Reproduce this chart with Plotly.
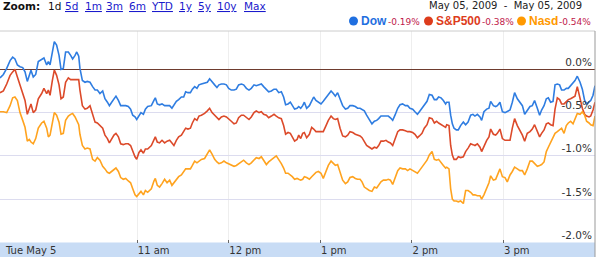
import pandas as pd
import plotly.graph_objects as go

# ---------------- data ----------------
minutes_after_open = [
    0.0, 2.2, 4.4, 6.6, 8.3, 9.8, 11.4, 13.1, 14.9, 16.4, 17.9, 19.2, 20.3, 21.8, 23.4, 25.1, 27.3, 28.8, 30.6, 31.7,
    32.8, 34.3, 35.6, 37.1, 38.7, 40.0, 41.5, 43.0, 44.8, 46.3, 47.6, 49.2, 50.3, 51.6, 52.4, 54.0, 55.7, 57.2, 59.0, 60.7,
    62.3, 63.8, 65.5, 67.3, 68.8, 70.4, 71.7, 73.2, 74.7, 76.0, 77.6, 79.1, 80.8, 82.4, 84.1, 85.6, 87.0, 88.5, 89.6, 91.1,
    92.4, 94.0, 95.3, 96.8,
    99.2, 100.9, 101.8, 103.1, 104.6, 106.2, 107.9, 109.5, 111.2, 112.7, 114.0, 115.6, 117.1, 118.9, 120.4, 121.7, 123.2, 124.8, 126.1, 127.6,
    129.1, 130.4, 132.0, 134.1, 135.9, 137.4, 139.0, 140.7, 142.2, 143.5, 145.1, 146.8, 148.4, 149.9, 151.6, 153.4, 154.9, 156.4, 158.2, 159.7,
    161.5, 163.2, 164.7, 166.5, 168.0, 169.8, 171.3, 172.8, 174.6, 176.1, 177.9, 179.6, 181.1, 182.7, 184.4, 185.9, 187.2, 188.8, 190.3, 191.6,
    193.1, 194.7,
    195.8, 197.1, 198.4, 199.5, 201.0, 202.8, 204.3, 205.6, 207.1, 208.7, 210.4, 211.9, 213.7, 215.2, 217.0, 218.5, 219.8, 221.3, 222.9, 224.6,
    226.4, 227.9, 229.4, 231.2, 232.9, 234.4, 236.0, 237.3, 238.8, 240.3, 242.1, 243.8, 245.4, 246.9, 248.2, 249.7, 251.3, 253.0, 254.5, 255.9,
    257.4, 258.9, 260.7, 262.2, 263.9, 265.7, 267.2, 268.7, 270.5, 272.0, 273.6, 274.9, 276.6, 278.1, 279.9, 281.4, 283.2, 284.7, 286.2, 287.5,
    289.1, 290.6, 292.1,
    292.8, 294.3, 295.4, 296.5, 297.6, 299.1, 300.4, 301.9, 303.7, 305.2, 306.8, 308.5, 310.0, 311.3, 312.9, 314.6, 315.7, 317.2, 319.0, 320.5,
    321.6, 323.4, 324.9, 326.0, 327.7, 329.3, 331.0, 332.5, 334.3, 335.8, 337.3, 339.1, 340.8, 342.4, 343.9, 345.6, 347.4, 348.9, 350.4, 352.2,
    353.7, 355.0, 356.6, 358.1, 359.4, 360.9, 362.5, 363.8, 365.3, 366.8, 368.1, 369.7, 371.2, 372.5, 374.0, 375.6, 376.9, 378.4, 380.2, 381.7,
    383.2, 384.5, 386.1, 387.2, 388.7, 390.0,
]

dow_pct = [
    -0.10, -0.06, 0.01, 0.10, 0.14, 0.12, 0.05, 0.03, 0.02, -0.03, -0.14, -0.06, -0.01, -0.09, -0.06, 0.09, 0.12, 0.13, 0.05, 0.09,
    0.05, 0.22, 0.32, 0.28, 0.16, 0.00, 0.01, 0.20, 0.20, 0.16, 0.12, 0.16, 0.20, 0.15, 0.01, -0.13, -0.15, -0.14, -0.15, -0.20,
    -0.24, -0.24, -0.28, -0.25, -0.34, -0.38, -0.42, -0.38, -0.34, -0.31, -0.36, -0.42, -0.42, -0.42, -0.43, -0.46, -0.53, -0.55, -0.58, -0.53,
    -0.50, -0.52, -0.46, -0.43,
    -0.42, -0.36, -0.33, -0.40, -0.41, -0.40, -0.42, -0.42, -0.42, -0.45, -0.42, -0.37, -0.35, -0.32, -0.32, -0.26, -0.27, -0.27, -0.23, -0.20,
    -0.22, -0.18, -0.17, -0.16, -0.15, -0.11, -0.15, -0.18, -0.21, -0.18, -0.17, -0.17, -0.18, -0.22, -0.24, -0.24, -0.23, -0.18, -0.17, -0.18,
    -0.22, -0.24, -0.22, -0.18, -0.19, -0.18, -0.17, -0.20, -0.24, -0.26, -0.25, -0.23, -0.23, -0.27, -0.26, -0.32, -0.41, -0.40, -0.38, -0.42,
    -0.46, -0.45,
    -0.43, -0.45, -0.42, -0.38, -0.45, -0.42, -0.36, -0.32, -0.36, -0.38, -0.40, -0.37, -0.33, -0.29, -0.25, -0.28, -0.31, -0.27, -0.35, -0.42,
    -0.46, -0.45, -0.42, -0.42, -0.43, -0.45, -0.45, -0.46, -0.48, -0.53, -0.59, -0.63, -0.60, -0.59, -0.57, -0.54, -0.54, -0.54, -0.54, -0.56,
    -0.59, -0.53, -0.45, -0.41, -0.40, -0.42, -0.42, -0.45, -0.46, -0.49, -0.52, -0.49, -0.45, -0.42, -0.37, -0.29, -0.30, -0.35, -0.35, -0.32,
    -0.33, -0.36, -0.40,
    -0.38, -0.38, -0.53, -0.63, -0.68, -0.70, -0.70, -0.65, -0.61, -0.64, -0.61, -0.53, -0.52, -0.54, -0.52, -0.55, -0.59, -0.49, -0.46, -0.45,
    -0.37, -0.42, -0.43, -0.42, -0.38, -0.49, -0.50, -0.49, -0.47, -0.38, -0.27, -0.34, -0.38, -0.42, -0.52, -0.47, -0.43, -0.42, -0.36, -0.45,
    -0.53, -0.47, -0.42, -0.34, -0.33, -0.38, -0.37, -0.18, -0.17, -0.18, -0.24, -0.24, -0.22, -0.22, -0.19, -0.15, -0.13, -0.08, -0.15, -0.23,
    -0.36, -0.40, -0.38, -0.36, -0.30, -0.19,
]

sp500_pct = [
    -0.27, -0.25, -0.17, -0.07, -0.03, 0.00, -0.09, -0.18, -0.28, -0.36, -0.52, -0.45, -0.40, -0.50, -0.47, -0.34, -0.28, -0.22, -0.28, -0.24,
    -0.30, -0.13, -0.01, -0.07, -0.18, -0.34, -0.32, -0.15, -0.10, -0.12, -0.12, -0.12, -0.12, -0.12, -0.24, -0.42, -0.46, -0.45, -0.42, -0.51,
    -0.61, -0.62, -0.65, -0.68, -0.76, -0.80, -0.85, -0.80, -0.76, -0.74, -0.78, -0.86, -0.87, -0.86, -0.86, -0.88, -0.95, -1.01, -1.04, -0.96,
    -0.93, -0.97, -0.92, -0.92,
    -0.88, -0.80, -0.78, -0.84, -0.85, -0.82, -0.85, -0.83, -0.82, -0.85, -0.88, -0.82, -0.78, -0.76, -0.72, -0.68, -0.69, -0.68, -0.62, -0.57,
    -0.59, -0.54, -0.53, -0.51, -0.48, -0.45, -0.50, -0.53, -0.56, -0.58, -0.55, -0.54, -0.55, -0.57, -0.60, -0.63, -0.62, -0.56, -0.53, -0.53,
    -0.56, -0.58, -0.55, -0.50, -0.48, -0.50, -0.49, -0.52, -0.53, -0.56, -0.54, -0.52, -0.54, -0.56, -0.57, -0.65, -0.75, -0.73, -0.74, -0.78,
    -0.83, -0.81,
    -0.76, -0.80, -0.74, -0.73, -0.79, -0.75, -0.67, -0.69, -0.72, -0.72, -0.72, -0.72, -0.65, -0.59, -0.54, -0.57, -0.58, -0.57, -0.68, -0.77,
    -0.78, -0.76, -0.72, -0.73, -0.75, -0.76, -0.77, -0.79, -0.83, -0.88, -0.90, -0.92, -0.90, -0.91, -0.88, -0.83, -0.83, -0.82, -0.84, -0.85,
    -0.88, -0.80, -0.72, -0.70, -0.70, -0.71, -0.72, -0.72, -0.73, -0.75, -0.79, -0.77, -0.74, -0.68, -0.64, -0.56, -0.57, -0.62, -0.60, -0.62,
    -0.64, -0.65, -0.67,
    -0.64, -0.65, -0.88, -0.99, -1.04, -1.04, -1.01, -1.02, -1.01, -0.95, -0.91, -0.86, -0.87, -0.88, -0.86, -0.90, -0.95, -0.88, -0.82, -0.78,
    -0.69, -0.75, -0.76, -0.74, -0.69, -0.80, -0.82, -0.82, -0.82, -0.68, -0.57, -0.65, -0.70, -0.76, -0.83, -0.74, -0.72, -0.69, -0.64, -0.72,
    -0.78, -0.74, -0.70, -0.63, -0.62, -0.64, -0.65, -0.46, -0.33, -0.35, -0.40, -0.40, -0.37, -0.35, -0.34, -0.32, -0.31, -0.20, -0.34, -0.45,
    -0.52, -0.54, -0.55, -0.54, -0.47, -0.38,
]

nasd_pct = [
    -0.49, -0.49, -0.50, -0.42, -0.33, -0.32, -0.36, -0.50, -0.59, -0.67, -0.83, -0.81, -0.84, -0.86, -0.80, -0.68, -0.62, -0.60, -0.68, -0.78,
    -0.76, -0.63, -0.50, -0.53, -0.61, -0.75, -0.74, -0.59, -0.54, -0.52, -0.51, -0.55, -0.60, -0.64, -0.75, -0.88, -0.92, -0.91, -0.92, -1.04,
    -1.06, -1.02, -1.05, -1.12, -1.15, -1.19, -1.20, -1.18, -1.15, -1.14, -1.18, -1.25, -1.27, -1.26, -1.29, -1.31, -1.38, -1.45, -1.47, -1.43,
    -1.41, -1.45, -1.40, -1.42,
    -1.38, -1.29, -1.26, -1.34, -1.36, -1.32, -1.27, -1.31, -1.28, -1.34, -1.31, -1.27, -1.24, -1.22, -1.18, -1.15, -1.15, -1.15, -1.11, -1.06,
    -1.08, -1.06, -1.04, -1.03, -0.98, -0.93, -0.98, -1.04, -1.07, -1.09, -1.08, -1.06, -1.08, -1.09, -1.11, -1.12, -1.11, -1.09, -1.06, -1.05,
    -1.08, -1.10, -1.08, -1.04, -1.02, -1.03, -1.01, -1.05, -1.10, -1.07, -1.04, -1.02, -1.00, -1.04, -1.09, -1.14, -1.20, -1.20, -1.22, -1.24,
    -1.27, -1.26,
    -1.27, -1.28, -1.27, -1.24, -1.25, -1.27, -1.24, -1.22, -1.19, -1.18, -1.20, -1.26, -1.17, -1.11, -1.06, -1.09, -1.11, -1.10, -1.18, -1.28,
    -1.32, -1.30, -1.25, -1.24, -1.26, -1.27, -1.27, -1.30, -1.36, -1.38, -1.40, -1.41, -1.36, -1.37, -1.33, -1.30, -1.28, -1.28, -1.27, -1.28,
    -1.33, -1.26, -1.17, -1.14, -1.15, -1.15, -1.17, -1.15, -1.17, -1.18, -1.20, -1.17, -1.13, -1.09, -1.05, -0.99, -0.95, -1.04, -1.05, -1.04,
    -1.07, -1.11, -1.14,
    -1.13, -1.15, -1.38, -1.50, -1.52, -1.52, -1.53, -1.52, -1.55, -1.40, -1.40, -1.42, -1.45, -1.45, -1.46, -1.46, -1.50, -1.45, -1.37, -1.31,
    -1.23, -1.28, -1.27, -1.22, -1.15, -1.24, -1.25, -1.30, -1.22, -1.18, -1.13, -1.15, -1.17, -1.17, -1.22, -1.15, -1.06, -1.06, -1.09, -1.12,
    -1.11, -1.10, -1.07, -0.95, -0.90, -0.85, -0.79, -0.74, -0.72, -0.70, -0.68, -0.74, -0.65, -0.62, -0.60, -0.63, -0.57, -0.51, -0.52, -0.49,
    -0.53, -0.60, -0.62, -0.64, -0.65, -0.54,
]

series_names = ["Dow", "S&P500", "Nasd"]
series_changes = ["-0.19%", "-0.38%", "-0.54%"]
y_tick_values = [0.0, -0.5, -1.0, -1.5, -2.0]
y_tick_labels = ["0.0%", "-0.5%", "-1.0%", "-1.5%", "-2.0%"]
x_tick_times = ["2009-05-05 11:00", "2009-05-05 12:00", "2009-05-05 13:00", "2009-05-05 14:00", "2009-05-05 15:00"]
x_tick_labels = ["11 am", "12 pm", "1 pm", "2 pm", "3 pm"]
day_label = "Tue May 5"
date_range_label = "May 05, 2009\u00a0\u00a0-\u00a0\u00a0May 05, 2009"
zoom_options = ["1d", "5d", "1m", "3m", "6m", "YTD", "1y", "5y", "10y", "Max"]

# ---------------- figure ----------------
W, H = 600, 257
open_time = pd.Timestamp("2009-05-05 09:30")
close_time = pd.Timestamp("2009-05-05 16:00")
times = [open_time + pd.Timedelta(minutes=m) for m in minutes_after_open]

line_colors = ["#2f7de1", "#dc4a2a", "#ffa31f"]
dot_colors = ["#1f6fe0", "#dd3c1c", "#ff9900"]

plot_right = 595
plot_top = 31
plot_bottom = 242.5

def px_x(p):
    return p / W

def px_y(p):
    return 1 - p / H

fig = go.Figure()
for name, vals, col in zip(series_names, [dow_pct, sp500_pct, nasd_pct], line_colors):
    fig.add_trace(go.Scatter(x=times, y=vals, mode="lines", name=name,
                             line=dict(color=col, width=1.6), hoverinfo="skip"))

fig.update_layout(
    width=W, height=H, margin=dict(l=0, r=0, t=0, b=0),
    paper_bgcolor="white", plot_bgcolor="white", showlegend=False,
    font=dict(family="DejaVu Sans", size=10, color="#333333"),
)

fig.update_xaxes(
    type="date", domain=[0, px_x(plot_right)],
    range=[open_time, close_time],
    tickvals=x_tick_times, ticktext=x_tick_labels,
    ticks="inside", ticklen=3, tickcolor="#666666", tickwidth=1,
    ticklabelposition="outside right",
    showgrid=True, gridcolor="#eeeeee", gridwidth=1,
    showline=False, zeroline=False,
    tickfont=dict(family="DejaVu Sans", size=10, color="#333333"),
    fixedrange=True,
)

fig.update_yaxes(
    domain=[px_y(plot_bottom), px_y(plot_top)],
    range=[-2.0, 0.442], side="right",
    tickvals=y_tick_values, ticktext=y_tick_labels,
    ticklabelposition="inside top", ticks="",
    showgrid=True, gridcolor="#dcdcef", gridwidth=1.3,
    zeroline=True, zerolinecolor="#6e3b2e", zerolinewidth=1,
    showline=False,
    tickfont=dict(family="DejaVu Sans", size=10.5, color="#333333"),
    fixedrange=True,
)

shapes = []
# bottom band
shapes.append(dict(type="rect", xref="paper", yref="paper", x0=0, x1=px_x(plot_right),
                   y0=0, y1=px_y(plot_bottom), fillcolor="#c8dcf5", line=dict(width=0), layer="below"))
# top border
shapes.append(dict(type="line", xref="paper", yref="paper", x0=0, x1=px_x(plot_right),
                   y0=px_y(plot_top), y1=px_y(plot_top), line=dict(color="#cccccc", width=1)))
# right border
shapes.append(dict(type="line", xref="paper", yref="paper", x0=px_x(plot_right), x1=px_x(plot_right),
                   y0=0, y1=px_y(plot_top), line=dict(color="#999999", width=1)))
# legend dots
dot_centers = [353.5, 428.5, 521.5]
for cx, col in zip(dot_centers, dot_colors):
    shapes.append(dict(type="circle", xref="paper", yref="paper",
                       x0=px_x(cx - 4.5), x1=px_x(cx + 4.5), y0=px_y(21 + 4.5), y1=px_y(21 - 4.5),
                       fillcolor=col, line=dict(width=0)))
fig.update_layout(shapes=shapes)

ann = []
# day label in band
ann.append(dict(x=px_x(3), y=px_y(250), xref="paper", yref="paper", text=day_label,
                showarrow=False, xanchor="left", yanchor="middle",
                font=dict(family="DejaVu Sans", size=10, color="#333333")))
# zoom bar
ann.append(dict(x=px_x(1), y=px_y(6), xref="paper", yref="paper", text="<b>Zoom:</b>",
                showarrow=False, xanchor="left", yanchor="middle",
                font=dict(family="DejaVu Sans", size=10.5, color="#111111")))
zoom_x = [46, 63, 83, 104, 127, 149, 177, 196, 215, 242]
for i, (lab, zx) in enumerate(zip(zoom_options, zoom_x)):
    if i == 0:
        txt, col = lab, "#111111"
    else:
        txt, col = '<span style="text-decoration:underline">%s</span>' % lab, "#1a1acc"
    ann.append(dict(x=px_x(zx), y=px_y(6), xref="paper", yref="paper", text=txt,
                    showarrow=False, xanchor="left", yanchor="middle",
                    font=dict(family="DejaVu Sans", size=10.5, color=col)))
# date range
ann.append(dict(x=px_x(584), y=px_y(5), xref="paper", yref="paper", text=date_range_label,
                showarrow=False, xanchor="right", yanchor="middle",
                font=dict(family="DejaVu Sans", size=10, color="#222222")))
# legend names and changes
name_x = [359, 434, 527]
chg_x = [386, 480, 557]
for nm, ch, nx, cx, col in zip(series_names, series_changes, name_x, chg_x, dot_colors):
    ann.append(dict(x=px_x(nx), y=px_y(21), xref="paper", yref="paper", text="<b>%s</b>" % nm,
                    showarrow=False, xanchor="left", yanchor="middle",
                    font=dict(family="Liberation Sans", size=12, color=col)))
    ann.append(dict(x=px_x(cx), y=px_y(21.5), xref="paper", yref="paper", text=ch,
                    showarrow=False, xanchor="left", yanchor="middle",
                    font=dict(family="DejaVu Sans", size=9, color="#c0184a")))
fig.update_layout(annotations=ann)

fig.write_html("out.html")
